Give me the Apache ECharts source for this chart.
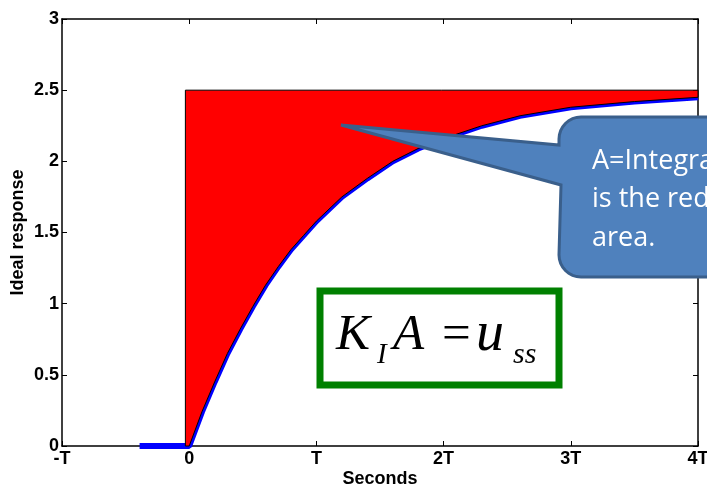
<!DOCTYPE html>
<html>
<head>
<meta charset="utf-8">
<script src="https://cdn.jsdelivr.net/npm/echarts@6/dist/echarts.min.js"></script>
<style>
  html, body { margin: 0; padding: 0; background: #fff; }
  #box { width: 707px; height: 486px; }
</style>
</head>
<body>
<div id="box"></div>
<script>
// x in units of T
var xTickLabels = ['-T', '0', 'T', '2T', '3T', '4T'];
var preT = [-0.39, 0];
var preY = [0, 0];
// step response
var curveT = [0, 0.1, 0.2, 0.3, 0.4, 0.5, 0.6, 0.7, 0.8, 0.9, 1, 1.2, 1.4, 1.6, 1.8, 2, 2.3, 2.6, 3, 3.5, 4];
var curveY = [0, 0.24, 0.45, 0.65, 0.82, 0.98, 1.13, 1.26, 1.38, 1.48, 1.58, 1.75, 1.88, 2.0, 2.09, 2.16, 2.25, 2.32, 2.38, 2.42, 2.45];
var uss = 2.5;
var redStart = -0.03;

var lineData = [];
for (var i = 0; i < preT.length; i++) lineData.push([preT[i], preY[i]]);
for (var j = 1; j < curveT.length; j++) lineData.push([curveT[j], curveY[j]]);

var lab = { color: '#000', fontFamily: 'Liberation Sans', fontWeight: 'bold', fontSize: 18 };
var frame = { onZero: false, lineStyle: { color: '#000', width: 1.5 } };

// outline of the speech bubble (rounded box + pointer), pixel coords
function arc(cx, cy, r, a0, a1) {
  var out = [];
  for (var s = 0; s <= 8; s++) {
    var a = a0 + (a1 - a0) * s / 8;
    out.push([cx + r * Math.cos(a), cy + r * Math.sin(a)]);
  }
  return out;
}
var bx = 559, by = 117, bw = 200, bh = 160, br = 22;
var bubble = [[341, 125], [bx, 145]]
  .concat(arc(bx + br, by + br, br, Math.PI, Math.PI * 1.5))
  .concat([[bx + bw, by], [bx + bw, by + bh]])
  .concat(arc(bx + br, by + bh - br, br, Math.PI * 0.5, Math.PI))
  .concat([[bx + 2, 185]]);

function tx(x, y, s, font) {
  return { type: 'text', z: 11, x: x, y: y, style: { text: s, fill: '#000', font: font, textVerticalAlign: 'middle' } };
}
function wt(y, s) {
  return { type: 'text', z: 11, x: 592, y: y, style: { text: s, fill: '#fff', font: '27px "Open Sans"', textVerticalAlign: 'middle' } };
}

var myChart = echarts.init(document.getElementById('box'));
var option = {
  animation: false,
  grid: { left: 62, right: 9, top: 19, bottom: 40, outerBoundsMode: 'none', containLabel: false },
  xAxis: [{
    type: 'value', min: -1, max: 4, interval: 1,
    name: 'Seconds', nameLocation: 'middle', nameGap: 24, nameMoveOverlap: false,
    nameTextStyle: lab,
    axisLine: frame,
    axisTick: { inside: true, length: 5, lineStyle: { color: '#000' } },
    axisLabel: Object.assign({ margin: 4, formatter: function (v) { return xTickLabels[Math.round(v) + 1]; } }, lab),
    splitLine: { show: false }
  }, {
    type: 'value', min: -1, max: 4, interval: 1, position: 'top',
    axisLine: frame,
    axisTick: { inside: true, length: 5, lineStyle: { color: '#000' } },
    axisLabel: { show: false }, splitLine: { show: false }
  }],
  yAxis: [{
    type: 'value', min: 0, max: 3, interval: 0.5,
    name: 'Ideal response', nameLocation: 'middle', nameGap: 35, nameMoveOverlap: false,
    nameTextStyle: lab,
    axisLine: Object.assign({ show: true }, frame),
    axisTick: { show: true, inside: true, length: 5, lineStyle: { color: '#000' } },
    axisLabel: Object.assign({ margin: 3 }, lab),
    splitLine: { show: false }
  }, {
    type: 'value', min: 0, max: 3, interval: 0.5, position: 'right',
    axisLine: Object.assign({ show: true }, frame),
    axisTick: { show: true, inside: true, length: 5, lineStyle: { color: '#000' } },
    axisLabel: { show: false }, splitLine: { show: false }
  }],
  series: [{
    type: 'line', data: lineData, showSymbol: false, z: 2,
    lineStyle: { color: '#0000ff', width: 6 }
  }, {
    type: 'custom', data: [[0, 0]], z: 3,
    renderItem: function (params, api) {
      var pts = [api.coord([redStart, 0]), api.coord([redStart, uss]), api.coord([4, uss])];
      for (var k = curveT.length - 1; k >= 0; k--) pts.push(api.coord([curveT[k], curveY[k]]));
      return {
        type: 'polygon',
        shape: { points: pts },
        style: { fill: '#ff0000', stroke: '#000', lineWidth: 1 }
      };
    }
  }],
  graphic: [
    {
      type: 'polygon', z: 10,
      shape: { points: bubble },
      style: { fill: '#4f81bd', stroke: '#3a5f8b', lineWidth: 3 }
    },
    wt(161, 'A=Integral of error'),
    wt(199, 'is the red'),
    wt(238, 'area.'),
    {
      type: 'rect', z: 10,
      shape: { x: 320, y: 291, width: 239, height: 94 },
      style: { fill: '#fff', stroke: '#008000', lineWidth: 7 }
    },
    tx(336, 336, 'K', 'italic 51px "Liberation Serif"'),
    tx(377, 355, 'I', 'italic 29px "Liberation Serif"'),
    tx(393, 336, 'A', 'italic 51px "Liberation Serif"'),
    tx(442, 336, '=', '51px "Liberation Serif"'),
    tx(476, 335, 'u', 'italic 56px "Liberation Serif"'),
    tx(513, 355, 'ss', 'italic 30px "Liberation Serif"')
  ]
};
myChart.setOption(option);
</script>
</body>
</html>
